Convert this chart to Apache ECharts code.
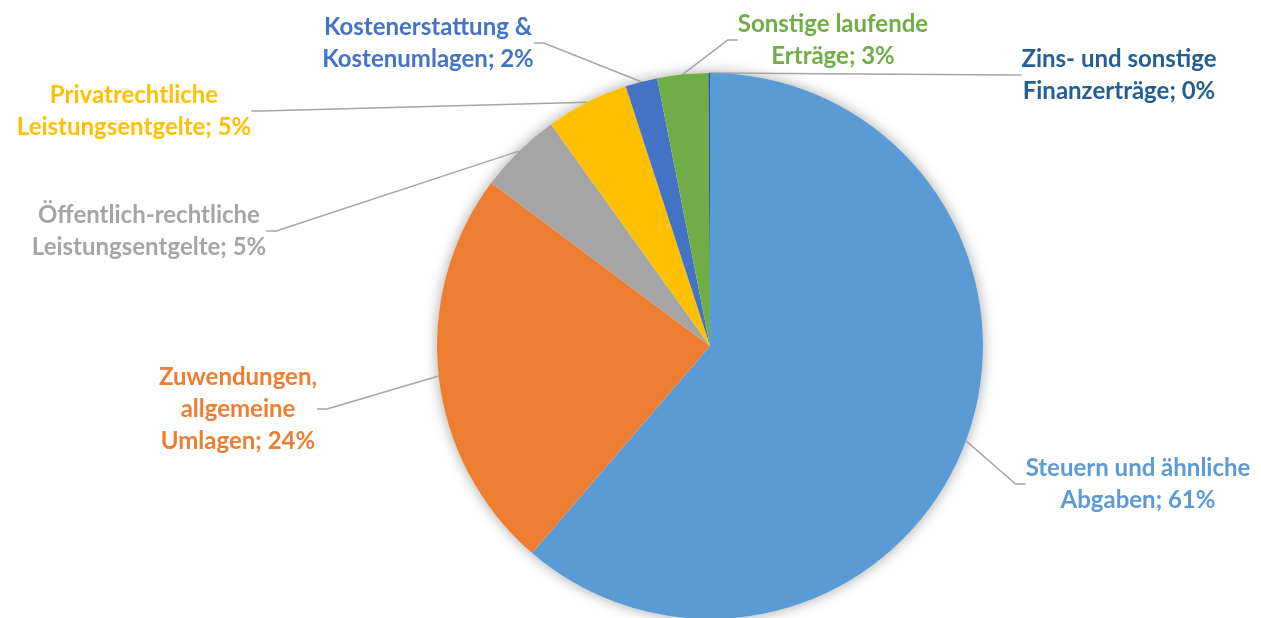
<!DOCTYPE html>
<html>
<head>
<meta charset="utf-8">
<script src="https://cdn.jsdelivr.net/npm/echarts@6/dist/echarts.min.js"></script>
<style>
html, body { margin: 0; padding: 0; background: #fff; }
#main { width: 1261px; height: 618px; }
</style>
</head>
<body>
<div id="main"></div>
<script>
// Ertragsarten (Reihenfolge im Uhrzeigersinn ab 12 Uhr)
const categories = [
    'Steuern und ähnliche\nAbgaben',
    'Zuwendungen,\nallgemeine\nUmlagen',
    'Öffentlich-rechtliche\nLeistungsentgelte',
    'Privatrechtliche\nLeistungsentgelte',
    'Kostenerstattung &\nKostenumlagen',
    'Sonstige laufende\nErträge',
    'Zins- und sonstige\nFinanzerträge'
];
// Anteile in %
const shares = [61.3, 23.9, 4.9, 4.9, 1.9, 3.0, 0.1];

const colors = ['#5B9BD5', '#ED7D31', '#A5A5A5', '#FFC000', '#4472C4', '#70AD47', '#255E91'];
// Mittelpunkt der Beschriftungen (px)
const labelPos = [[1138, 484], [238, 409], [149, 231], [134, 111], [428, 43], [833, 40], [1119, 75]];

const total = shares.reduce((a, b) => a + b, 0);
const chart = echarts.init(document.getElementById('main'));

chart.setOption({
    animation: false,
    backgroundColor: '#fff',
    series: [
        {
            // nur Schatten unter dem Kreis
            type: 'pie',
            silent: true,
            center: [710, 346],
            radius: 273,
            z: 1,
            label: { show: false },
            labelLine: { show: false },
            itemStyle: { color: '#fff', shadowBlur: 14, shadowColor: 'rgba(0,0,0,0.35)' },
            data: [{ value: total, name: '' }]
        },
        {
            type: 'pie',
            center: [710, 346],
            radius: 273,
            startAngle: 90,
            clockwise: true,
            z: 2,
            avoidLabelOverlap: false,
            itemStyle: { borderWidth: 0 },
            label: {
                show: true,
                formatter: p => p.name + '; ' + Math.round(p.percent) + '%',
                fontFamily: 'Lato',
                fontWeight: 'bold',
                fontSize: 24,
                lineHeight: 32,
                align: 'center'
            },
            labelLine: {
                show: true,
                length: 10,
                length2: 10,
                lineStyle: { color: '#A5A5A5', width: 1.5 }
            },
            labelLayout: function (params) {
                const p = labelPos[params.dataIndex];
                return { x: p[0], y: p[1], align: 'center', verticalAlign: 'middle' };
            },
            data: categories.map((c, i) => ({
                name: c,
                value: shares[i],
                itemStyle: { color: colors[i] },
                label: { color: colors[i] }
            }))
        }
    ]
});
</script>
</body>
</html>
